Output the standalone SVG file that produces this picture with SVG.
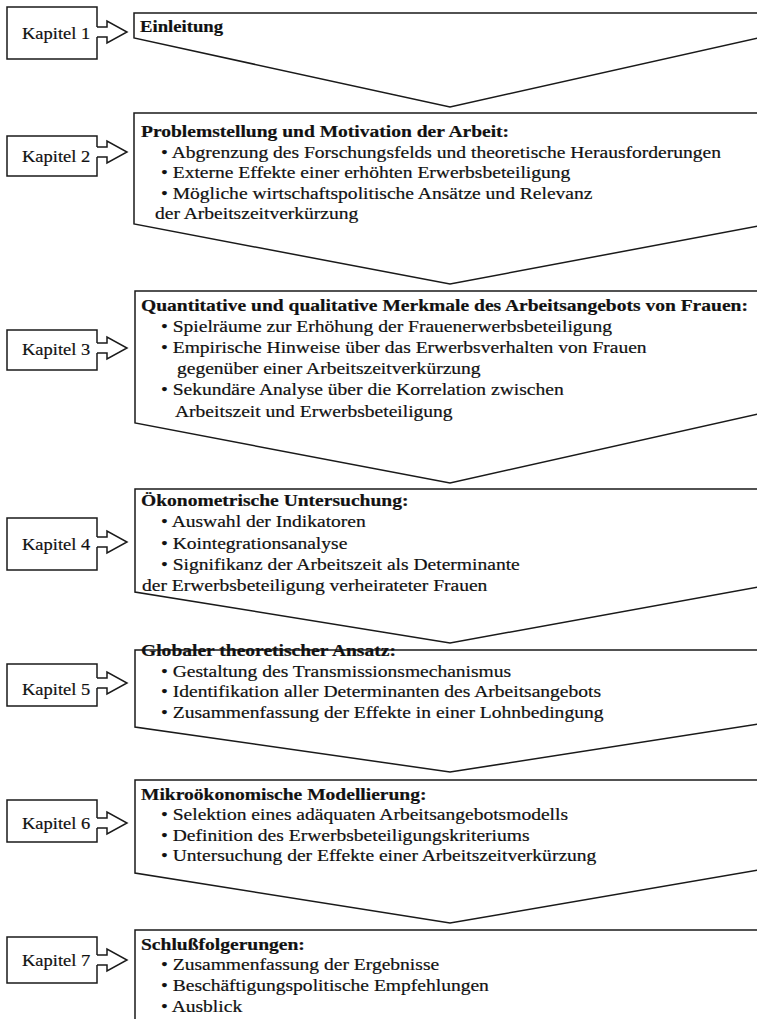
<svg xmlns="http://www.w3.org/2000/svg" width="757" height="1019" viewBox="0 0 757 1019">
<style>
.ln{fill:none;stroke:#1a1a1a;stroke-width:1.5;stroke-linejoin:miter}
.t{font-family:"Liberation Serif","Times New Roman",serif;font-size:17px;fill:#111;stroke:#111;stroke-width:0.2}
.b{font-weight:bold}
.k{font-size:16.5px}
</style>
<rect x="0" y="0" width="757" height="1019" fill="#fff"/>
<g id="stage1">
<path class="ln" d="M758,13 L134,13 L134,38 L450,107 L758,38"/>
<text class="t b" transform="translate(140,32) scale(1.1,1)">Einleitung</text>
</g>
<g id="stage2">
<path class="ln" d="M758,113 L134,113 L134,224 L450,284 L758,226"/>
<text class="t b" transform="translate(141,137) scale(1.15,1)">Problemstellung und Motivation der Arbeit:</text>
<text class="t" transform="translate(161,157.5) scale(1.15,1)">• Abgrenzung des Forschungsfelds und theoretische Herausforderungen</text>
<text class="t" transform="translate(161,178) scale(1.15,1)">• Externe Effekte einer erhöhten Erwerbsbeteiligung</text>
<text class="t" transform="translate(161,198.5) scale(1.15,1)">• Mögliche wirtschaftspolitische Ansätze und Relevanz</text>
<text class="t" transform="translate(155,219) scale(1.15,1)">der Arbeitszeitverkürzung</text>
</g>
<g id="stage3">
<path class="ln" d="M758,291 L135,291 L135,423 L450,483 L758,414"/>
<text class="t b" transform="translate(141,311) scale(1.15,1)">Quantitative und qualitative Merkmale des Arbeitsangebots von Frauen:</text>
<text class="t" transform="translate(161,332) scale(1.15,1)">• Spielräume zur Erhöhung der Frauenerwerbsbeteiligung</text>
<text class="t" transform="translate(161,353) scale(1.15,1)">• Empirische Hinweise über das Erwerbsverhalten von Frauen</text>
<text class="t" transform="translate(177,374) scale(1.15,1)">gegenüber einer Arbeitszeitverkürzung</text>
<text class="t" transform="translate(161,395) scale(1.15,1)">• Sekundäre Analyse über die Korrelation zwischen</text>
<text class="t" transform="translate(175,416.5) scale(1.15,1)">Arbeitszeit und Erwerbsbeteiligung</text>
</g>
<g id="stage4">
<path class="ln" d="M758,489 L135,489 L135,592 L450,643 L758,587"/>
<text class="t b" transform="translate(141,506) scale(1.15,1)">Ökonometrische Untersuchung:</text>
<text class="t" transform="translate(161,527) scale(1.15,1)">• Auswahl der Indikatoren</text>
<text class="t" transform="translate(161,548.5) scale(1.15,1)">• Kointegrationsanalyse</text>
<text class="t" transform="translate(161,570) scale(1.15,1)">• Signifikanz der Arbeitszeit als Determinante</text>
<text class="t" transform="translate(142,591) scale(1.15,1)">der Erwerbsbeteiligung verheirateter Frauen</text>
</g>
<g id="stage5">
<path class="ln" d="M758,650 L135,650 L135,727 L450,772 L758,724"/>
<text class="t b" transform="translate(141,656) scale(1.15,1)">Globaler theoretischer Ansatz:</text>
<text class="t" transform="translate(161,676.5) scale(1.15,1)">• Gestaltung des Transmissionsmechanismus</text>
<text class="t" transform="translate(161,697) scale(1.15,1)">• Identifikation aller Determinanten des Arbeitsangebots</text>
<text class="t" transform="translate(161,717.5) scale(1.15,1)">• Zusammenfassung der Effekte in einer Lohnbedingung</text>
</g>
<g id="stage6">
<path class="ln" d="M758,780 L135,780 L135,873 L450,923 L758,870"/>
<text class="t b" transform="translate(141,799.5) scale(1.15,1)">Mikroökonomische Modellierung:</text>
<text class="t" transform="translate(161,820) scale(1.15,1)">• Selektion eines adäquaten Arbeitsangebotsmodells</text>
<text class="t" transform="translate(161,840.5) scale(1.15,1)">• Definition des Erwerbsbeteiligungskriteriums</text>
<text class="t" transform="translate(161,861) scale(1.15,1)">• Untersuchung der Effekte einer Arbeitszeitverkürzung</text>
</g>
<g id="stage7">
<path class="ln" d="M758,930 L135,930 L135,1021"/>
<text class="t b" transform="translate(141,949.5) scale(1.15,1)">Schlußfolgerungen:</text>
<text class="t" transform="translate(161,970) scale(1.15,1)">• Zusammenfassung der Ergebnisse</text>
<text class="t" transform="translate(161,991) scale(1.15,1)">• Beschäftigungspolitische Empfehlungen</text>
<text class="t" transform="translate(161,1011.5) scale(1.15,1)">• Ausblick</text>
</g>
<g id="kapitel1">
<path class="ln" d="M97,27 L97,7 L7,7 L7,59 L97,59 L97,37"/>
<text class="t k" transform="translate(22,39) scale(1.12,1)">Kapitel 1</text>
</g>
<g id="kapitel2">
<path class="ln" d="M97,147 L97,136 L7,136 L7,176 L97,176 L97,157"/>
<text class="t k" transform="translate(22,161.5) scale(1.12,1)">Kapitel 2</text>
</g>
<g id="kapitel3">
<path class="ln" d="M97,343 L97,330 L7,330 L7,370 L97,370 L97,353"/>
<text class="t k" transform="translate(22,355) scale(1.12,1)">Kapitel 3</text>
</g>
<g id="kapitel4">
<path class="ln" d="M97,537 L97,518 L7,518 L7,570 L97,570 L97,547"/>
<text class="t k" transform="translate(22,549.5) scale(1.12,1)">Kapitel 4</text>
</g>
<g id="kapitel5">
<path class="ln" d="M97,678 L97,664 L7,664 L7,706 L97,706 L97,688"/>
<text class="t k" transform="translate(22,694.5) scale(1.12,1)">Kapitel 5</text>
</g>
<g id="kapitel6">
<path class="ln" d="M97,818 L97,800 L7,800 L7,842 L97,842 L97,828"/>
<text class="t k" transform="translate(22,828.5) scale(1.12,1)">Kapitel 6</text>
</g>
<g id="kapitel7">
<path class="ln" d="M97,955 L97,937 L7,937 L7,983 L97,983 L97,965"/>
<text class="t k" transform="translate(22,965.5) scale(1.12,1)">Kapitel 7</text>
</g>
<g id="connectors">
<path class="ln" d="M97,27 L107,27 L107,21 L127,32 L107,43 L107,37 L97,37"/>
<path class="ln" d="M97,147 L107,147 L107,141 L127,152 L107,163 L107,157 L97,157"/>
<path class="ln" d="M97,343 L107,343 L107,337 L127,348 L107,359 L107,353 L97,353"/>
<path class="ln" d="M97,537 L107,537 L107,531 L127,542 L107,553 L107,547 L97,547"/>
<path class="ln" d="M97,678 L107,678 L107,672 L127,683 L107,694 L107,688 L97,688"/>
<path class="ln" d="M97,818 L107,818 L107,812 L127,823 L107,834 L107,828 L97,828"/>
<path class="ln" d="M97,955 L107,955 L107,949 L127,960 L107,971 L107,965 L97,965"/>
</g>
</svg>
